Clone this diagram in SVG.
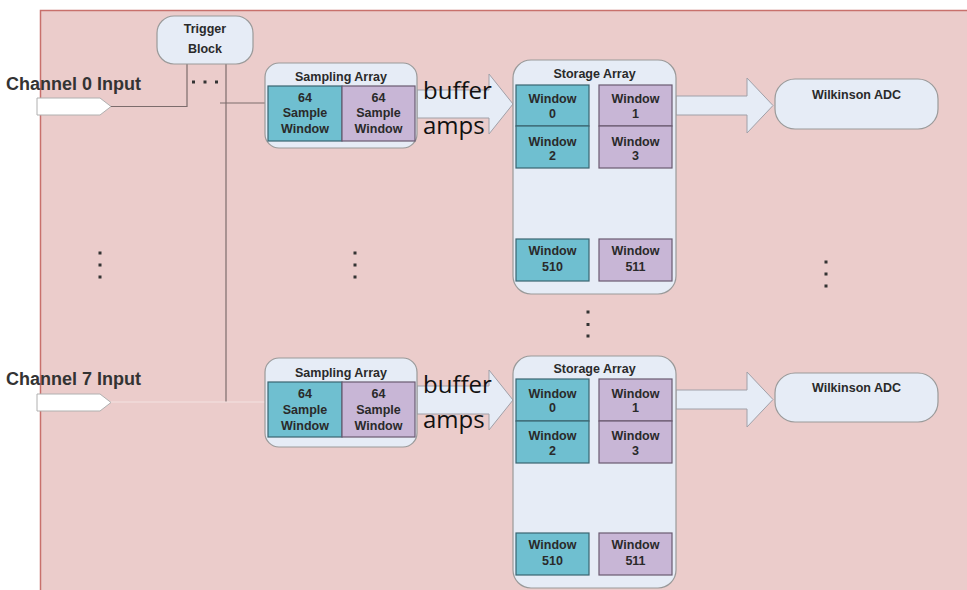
<svg xmlns="http://www.w3.org/2000/svg" width="967" height="590" viewBox="0 0 967 590">
<defs>
<style>
.t{font-family:"Liberation Sans",Arial,sans-serif;font-weight:bold;font-size:12.5px;fill:#2a2a2a;text-anchor:middle}
.ch{font-family:"Liberation Sans",Arial,sans-serif;font-weight:bold;font-size:18px;fill:#333}
.buf{font-family:"Open Sans","DejaVu Sans",sans-serif;font-size:24px;fill:#111}
.box{fill:#e6ecf6;stroke:#9a9a9a;stroke-width:1.2}
.teal{fill:#6fbfd0;stroke:#3a6470;stroke-width:1.2}
.purp{fill:#c8b6d6;stroke:#6a5a70;stroke-width:1.2}
.arr{fill:#e6ecf6;stroke:#a0a0a8;stroke-width:1}
.inp{fill:#ffffff;stroke:#b0b0b0;stroke-width:1}
.ln{fill:none;stroke:#7c6c6c;stroke-width:1.2}
.dot{fill:#333}
</style>
</defs>
<rect x="0" y="0" width="967" height="590" fill="#ffffff"/>
<rect id="background" x="40.5" y="10.5" width="940" height="600" fill="#ebcccb" stroke="#c8706c" stroke-width="1.5"/>

<g id="connectors">
<path class="ln" d="M110,106.5 H187 V64"/>
<path class="ln" d="M226,64 V402"/>
<path class="ln" d="M220,103 H265"/>
<path d="M110,402 H265" fill="none" stroke="#f3e2e1" stroke-width="1.2"/>
<path class="arr" d="M417,90 H489 V74 L513,104 L489,134 V118 H417 Z"/>
<path class="arr" d="M417,386 H489 V370 L513,400 L489,430 V414 H417 Z"/>
<path class="arr" d="M676,96 H747 V78 L773,105.5 L747,133 V115 H676 Z"/>
<path class="arr" d="M676,390 H747 V372 L773,399.5 L747,427 V409 H676 Z"/>
</g>

<g id="channel0">
<path class="inp" d="M37,98 H100 L111,106.5 L100,115 H37 Z"/>
<text class="ch" x="6" y="90">Channel 0 Input</text>
</g>
<g id="channel7">
<path class="inp" d="M37,394 H100 L111,402.5 L100,411 H37 Z"/>
<text class="ch" x="6" y="385">Channel 7 Input</text>
</g>

<g id="trigger">
<rect class="box" x="157" y="16" width="96" height="48" rx="17"/>
<text class="t" x="205" y="33">Trigger</text>
<text class="t" x="205" y="52.5">Block</text>
<rect class="dot" x="192" y="80.5" width="3" height="3"/>
<rect class="dot" x="203.5" y="80.5" width="3" height="3"/>
<rect class="dot" x="215" y="80.5" width="3" height="3"/>
</g>

<g id="sampling0">
<rect class="box" x="265" y="63" width="152" height="85" rx="14"/>
<text class="t" x="341" y="80.5">Sampling Array</text>
<rect class="teal" x="268" y="86" width="74" height="55"/>
<rect class="purp" x="342" y="86" width="73" height="55"/>
<text class="t" x="305" y="101.5">64</text>
<text class="t" x="305" y="116.5">Sample</text>
<text class="t" x="305" y="132.5">Window</text>
<text class="t" x="378.5" y="101.5">64</text>
<text class="t" x="378.5" y="116.5">Sample</text>
<text class="t" x="378.5" y="132.5">Window</text>
</g>
<g id="buffer0">
<text class="buf" x="423" y="99">buffer</text>
<text class="buf" x="423" y="134">amps</text>
</g>

<g id="storage0">
<rect class="box" x="513" y="60" width="163" height="234" rx="18"/>
<text class="t" x="594.5" y="77.5">Storage Array</text>
<rect class="teal" x="516" y="85" width="73" height="41"/>
<rect class="teal" x="516" y="126" width="73" height="42"/>
<rect class="teal" x="516" y="239" width="73" height="42"/>
<rect class="purp" x="599" y="85" width="73" height="41"/>
<rect class="purp" x="599" y="126" width="73" height="42"/>
<rect class="purp" x="599" y="239" width="73" height="42"/>
<text class="t" x="552.5" y="102.5">Window</text><text class="t" x="552.5" y="117.5">0</text>
<text class="t" x="635.5" y="102.5">Window</text><text class="t" x="635.5" y="117.5">1</text>
<text class="t" x="552.5" y="145.5">Window</text><text class="t" x="552.5" y="160">2</text>
<text class="t" x="635.5" y="145.5">Window</text><text class="t" x="635.5" y="160">3</text>
<text class="t" x="552.5" y="254.5">Window</text><text class="t" x="552.5" y="271">510</text>
<text class="t" x="635.5" y="254.5">Window</text><text class="t" x="635.5" y="271">511</text>
</g>

<g id="adc0">
<rect class="box" x="775" y="79" width="163" height="50" rx="20"/>
<text class="t" x="856.5" y="98.5">Wilkinson ADC</text>
</g>

<g id="sampling7">
<rect class="box" x="265" y="358" width="152" height="89" rx="14"/>
<text class="t" x="341" y="376.5">Sampling Array</text>
<rect class="teal" x="268" y="382" width="74" height="55"/>
<rect class="purp" x="342" y="382" width="73" height="55"/>
<text class="t" x="305" y="397.5">64</text>
<text class="t" x="305" y="413.5">Sample</text>
<text class="t" x="305" y="429.5">Window</text>
<text class="t" x="378.5" y="397.5">64</text>
<text class="t" x="378.5" y="413.5">Sample</text>
<text class="t" x="378.5" y="429.5">Window</text>
</g>
<g id="buffer7">
<text class="buf" x="423" y="393">buffer</text>
<text class="buf" x="423" y="428">amps</text>
</g>

<g id="storage7">
<rect class="box" x="513" y="356" width="163" height="232" rx="18"/>
<text class="t" x="594.5" y="372.5">Storage Array</text>
<rect class="teal" x="516" y="379" width="73" height="42"/>
<rect class="teal" x="516" y="421" width="73" height="42"/>
<rect class="teal" x="516" y="533" width="73" height="42"/>
<rect class="purp" x="599" y="379" width="73" height="42"/>
<rect class="purp" x="599" y="421" width="73" height="42"/>
<rect class="purp" x="599" y="533" width="73" height="42"/>
<text class="t" x="552.5" y="397.5">Window</text><text class="t" x="552.5" y="411.5">0</text>
<text class="t" x="635.5" y="397.5">Window</text><text class="t" x="635.5" y="411.5">1</text>
<text class="t" x="552.5" y="439.5">Window</text><text class="t" x="552.5" y="454.5">2</text>
<text class="t" x="635.5" y="439.5">Window</text><text class="t" x="635.5" y="454.5">3</text>
<text class="t" x="552.5" y="548.5">Window</text><text class="t" x="552.5" y="564.5">510</text>
<text class="t" x="635.5" y="548.5">Window</text><text class="t" x="635.5" y="564.5">511</text>
</g>

<g id="adc7">
<rect class="box" x="775" y="373" width="163" height="49" rx="20"/>
<text class="t" x="856.5" y="391.5">Wilkinson ADC</text>
</g>

<g id="ellipses">
<rect class="dot" x="98.5" y="251.5" width="3" height="3"/>
<rect class="dot" x="98.5" y="263.5" width="3" height="3"/>
<rect class="dot" x="98.5" y="275.5" width="3" height="3"/>
<rect class="dot" x="353.5" y="251.5" width="3" height="3"/>
<rect class="dot" x="353.5" y="263.5" width="3" height="3"/>
<rect class="dot" x="353.5" y="275.5" width="3" height="3"/>
<rect class="dot" x="586.5" y="310.5" width="3" height="3"/>
<rect class="dot" x="586.5" y="323" width="3" height="3"/>
<rect class="dot" x="586.5" y="334.5" width="3" height="3"/>
<rect class="dot" x="824.5" y="260.5" width="3" height="3"/>
<rect class="dot" x="824.5" y="272.5" width="3" height="3"/>
<rect class="dot" x="824.5" y="284.5" width="3" height="3"/>
</g>
</svg>
